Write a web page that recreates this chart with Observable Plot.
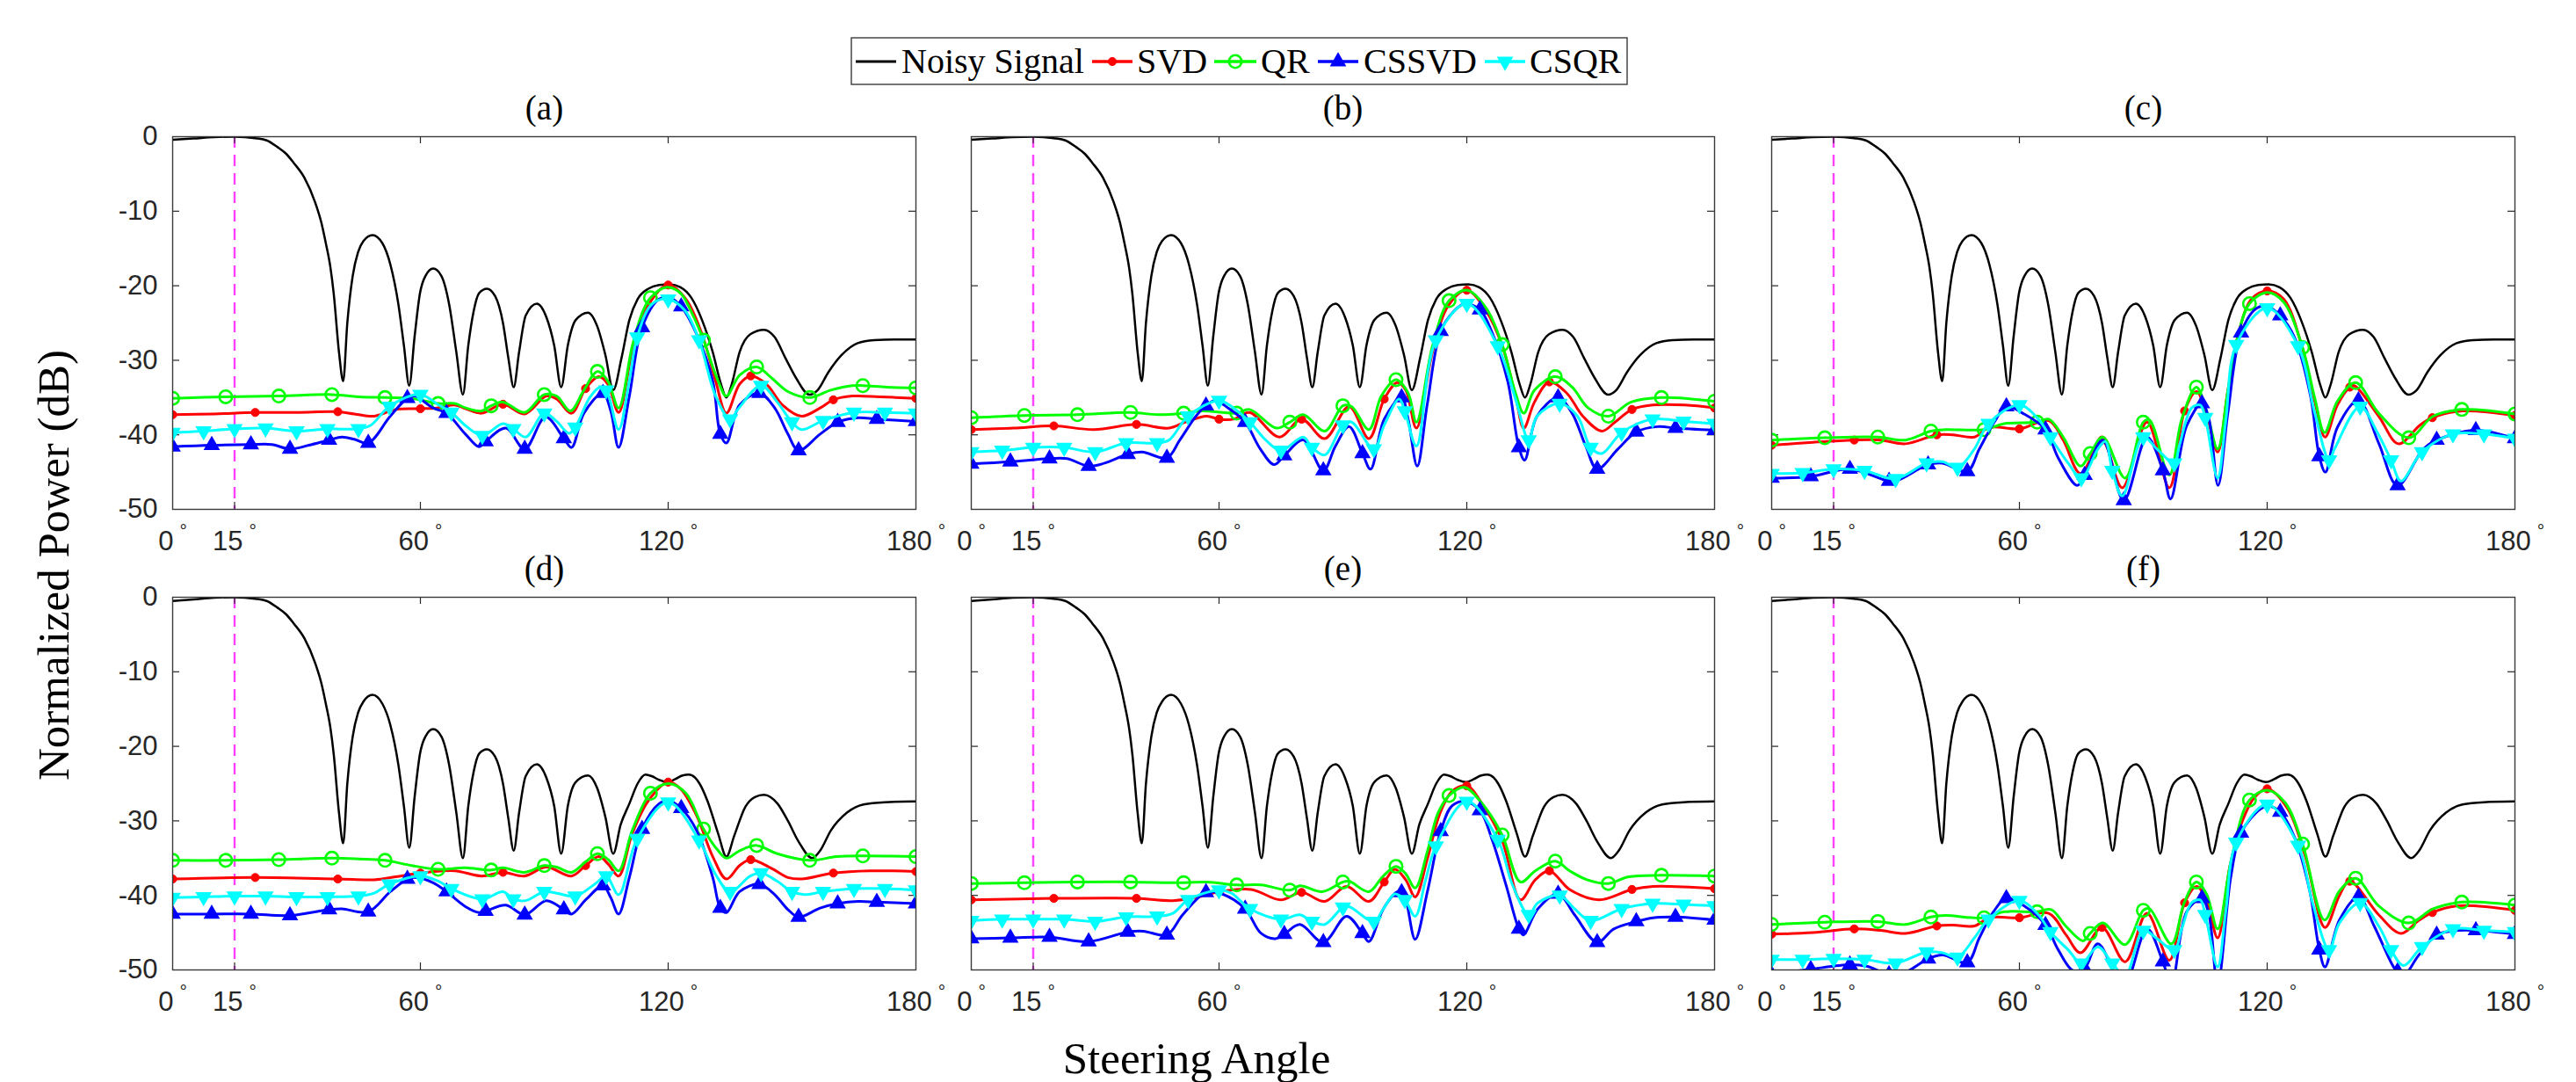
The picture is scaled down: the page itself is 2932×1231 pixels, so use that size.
<!DOCTYPE html>
<html><head><meta charset="utf-8">
<script src="https://cdn.jsdelivr.net/npm/d3@7"></script>
<script src="https://cdn.jsdelivr.net/npm/@observablehq/plot@0.6"></script>
<style>
body{margin:0;background:#fff;}
#fig{position:relative;width:2932px;height:1231px;overflow:hidden;background:#fff;}
.panel{position:absolute;}
.overlay{position:absolute;left:0;top:0;pointer-events:none;}
</style></head><body><div id="fig"></div>
<script>
// ---------- tick labels / categories ----------
const xTicks = [0, 15, 60, 120, 180];
const yTicks = [0, -10, -20, -30, -40, -50];
const panelTitles = ["(a)", "(b)", "(c)", "(d)", "(e)", "(f)"];
const seriesNames = ["Noisy Signal", "SVD", "QR", "CSSVD", "CSQR"];
const steeringRef = [15];
const xLabel = "Steering Angle";
const yLabel = "Normalized Power (dB)";

// ---------- noisy signal (black) ----------
const noisyTop = [[0,-0.4],[5,-0.25],[10,-0.05],[15,0],[20,-0.2],[22.8,-0.5],[25.4,-1.4],[27.5,-2.3],[29.3,-3.5],[31.9,-5.5],[34.5,-8.8],[36,-11.5],[37.1,-14.3],[38.2,-17.5],[39,-21],[40.3,-29],[41.3,-32.8],[42.3,-25],[43.6,-18.7],[44.9,-15.5],[46.2,-14],[48.4,-13.2],[50.8,-14.3],[52.7,-17.1],[54.7,-22.6],[56,-28],[57.3,-33.4],[58.6,-26.8],[59.9,-21],[61.2,-18.7],[63.1,-17.7],[65.1,-18.7],[67,-22.6],[68.7,-28.9],[70.3,-34.6],[71.6,-28],[72.9,-23.4],[74.2,-21],[76.1,-20.4],[78.1,-21.4],[80,-25],[81.3,-29.7],[82.6,-33.6],[83.9,-28.9],[85.5,-24],[88.2,-22.4],[90.5,-24.2],[92.4,-28],[94.1,-33.6],[95.7,-28],[97.6,-24.6],[100.6,-23.6],[102.8,-25.4],[104.8,-29.3],[106.7,-34],[108.7,-29.7],[110.6,-24.6],[112.6,-21.8],[115.2,-20.4],[117.8,-19.9],[120.4,-19.8],[123,-20.2],[125.6,-21.6],[128.2,-24.6],[130.8,-28.9],[132.8,-33.2],[134.1,-35],[135.4,-33.2],[137.3,-28.9],[139.9,-26.5],[143.2,-25.9],[145.8,-26.9],[148.4,-29.7],[151,-32.4],[154.2,-34.6],[156.2,-34],[158.8,-31.6],[162,-29.3],[165.9,-27.7],[169.8,-27.3],[175,-27.2],[180,-27.2]];
const noisyBottom = [[0,-0.5],[5,-0.3],[10,-0.05],[15,0],[20,-0.2],[22.8,-0.5],[25.4,-1.4],[27.5,-2.3],[29.3,-3.5],[31.9,-5.5],[34.5,-8.8],[36,-11.5],[37.1,-14.3],[38.2,-17.5],[39,-21],[40.3,-29],[41.3,-33],[42.3,-25],[43.6,-18.7],[44.9,-15.5],[46.2,-14],[48.4,-13.1],[50.8,-14.3],[52.7,-17.1],[54.7,-22.6],[56,-28],[57.3,-33.6],[58.6,-26.8],[59.9,-21],[61.2,-18.7],[63.1,-17.7],[65.1,-18.7],[67,-22.6],[68.7,-28.9],[70.3,-35],[71.6,-28],[72.9,-23.4],[74.2,-21],[76.1,-20.4],[78.1,-21.4],[80,-25],[81.3,-29.7],[82.6,-34],[83.9,-28.9],[85.5,-24],[88.2,-22.4],[90.5,-24.2],[92.4,-28],[94.1,-34.4],[95.7,-28],[97.6,-24.8],[100.6,-23.9],[102.8,-25.6],[104.8,-29.5],[106.7,-34.4],[108.5,-30.5],[110.6,-27.7],[112.6,-25],[114.5,-23.8],[116,-24],[117.8,-24.5],[119.7,-24.8],[121.7,-24.4],[123.5,-23.9],[125,-23.8],[126.5,-24.2],[127.6,-25],[129.5,-27.3],[132.1,-31.7],[134.1,-34.8],[136,-32],[138.7,-28.1],[141,-26.8],[143.2,-26.5],[146.5,-27.7],[149,-30],[151.6,-32.8],[154.9,-35],[156.8,-34],[159.4,-31.3],[163.3,-28.9],[167.3,-27.8],[172.5,-27.5],[180,-27.4]];

// ---------- panel (a) ----------  [angle, dB, marker?]
const a_svd = [[0,-37.3,1],[10,-37.2],[20,-37.0,1],[30,-37.0],[40,-36.9,1],[44,-37.2],[48.8,-37.5],[54,-36.6],[60,-36.5,1],[64,-36.4],[68.3,-36.0],[71,-36.5],[74.8,-37.1],[80,-35.9,1],[85.2,-37.2],[90.5,-34.8],[93,-35.2],[96.6,-37.1],[100,-33.8,1],[103.2,-32.2],[105.4,-33.2],[108,-37.0],[111.3,-28.9],[115.2,-22.6],[120,-19.9,1],[124.3,-21.8],[128.2,-26.5],[131.5,-32.8],[134.1,-37.1],[137.3,-33.2],[140,-32.1,1],[143.8,-33.2],[147.7,-36.0],[152.3,-37.5],[156.8,-36.4],[160,-35.3,1],[164.6,-34.8],[171.2,-34.9],[180,-35.1,1]];
const a_qr = [[0,-35.1,1],[12.86,-34.9,1],[25.71,-34.8,1],[38.57,-34.6,1],[45,-34.9],[51.43,-35.0,1],[57.9,-35.1],[64.29,-35.8,1],[68.3,-35.8],[71,-36.4],[74.8,-36.8],[77.14,-36.1,1],[80,-35.6],[85.2,-37.0],[90,-34.6,1],[93,-34.8],[96.3,-36.8],[99.6,-34.0],[102.86,-31.5,1],[105.4,-32.8],[108,-36.4],[111.3,-28.1],[113.9,-23.4],[115.71,-21.6,1],[119.7,-20.2],[123,-21.0],[126.2,-24.2],[128.57,-27.3,1],[132.1,-32.8],[134.1,-34.8],[137.3,-32.0],[141.43,-30.9,1],[145.1,-32.4],[149,-34.2],[154.29,-35.0,1],[159.4,-34.0],[164.6,-33.4],[167.14,-33.4,1],[173,-33.6],[180,-33.7,1]];
const a_cssvd = [[0,-41.6,1],[9.47,-41.4,1],[18.95,-41.3,1],[24,-41.3],[28.42,-41.9,1],[33,-41.4],[37.89,-40.7,1],[41,-40.3],[44,-40.6],[47.37,-41.1,1],[52.7,-37.5],[56.84,-35.1,1],[58.6,-34.8],[63.1,-36.4],[66.32,-37.1,1],[70.9,-39.9],[74.2,-41.6],[75.79,-40.9,1],[80.7,-39.1],[85.26,-41.9,1],[90.3,-37.6],[94.74,-40.5,1],[96.6,-41.7],[99.6,-37.1],[104.21,-34.4,1],[106.1,-36.8],[108,-41.7],[110.6,-34.8],[113.68,-25.6,1],[117.8,-21.8],[120.4,-21.6],[123.16,-22.8,1],[126.9,-26.5],[130.8,-32.8],[132.63,-39.9,1],[134.1,-41.1],[137.3,-36.0],[142.11,-34.4,1],[145.8,-36.4],[149,-39.9],[151.58,-42.1,1],[156.8,-39.9],[161.05,-38.3,1],[166,-37.7],[170.53,-37.9,1],[180,-38.2,1]];
const a_csqr = [[0,-39.7,1],[7.5,-39.5,1],[15,-39.2,1],[22.5,-39.1,1],[30,-39.5,1],[37.5,-39.2,1],[45,-39.2,1],[48,-38.7],[52.5,-36.2,1],[60,-34.6,1],[64.4,-36.0],[67.5,-37.0,1],[71,-38.8],[75,-40.1,1],[80,-38.5],[82.5,-39.2,1],[85.5,-40.3],[90,-37.1,1],[93,-38.2],[96,-39.8],[97.5,-39.0,1],[101,-35.0],[103.5,-33.6],[105,-34.0,1],[108,-39.3],[110.5,-33.0],[112.5,-26.9,1],[116,-22.5],[120,-21.8,1],[124,-23.3],[127.5,-27.3,1],[131.5,-34.8],[135,-37.9,1],[137,-36.5],[142.5,-33.4,1],[146.4,-35.6],[150,-38.3,1],[152.3,-39.3],[157.5,-38.1,1],[165,-37.0,1],[172.5,-37.0,1],[180,-37.1,1]];

// ---------- panel (b) ----------
const b_svd = [[0,-39.3,1],[10.2,-39.1],[20,-38.8,1],[29.7,-39.3],[40,-38.6,1],[47.9,-39.1],[51.8,-38.3],[57,-37.5],[60,-37.9,1],[63.5,-37.9],[67.4,-37.0],[74.6,-40.3],[80,-37.9,1],[85.6,-40.5],[91.5,-36.2],[96.3,-40.5],[100,-35.2,1],[103.2,-33.0],[105.2,-34.0],[107.8,-39.1],[111.7,-28.9],[115.6,-22.6],[120,-20.6,1],[124.7,-23.4],[128.6,-28.1],[131.8,-34.8],[133.8,-39.1],[136.4,-35.6],[140,-32.9,1],[144.2,-34.4],[148.1,-37.5],[152.7,-39.5],[155.9,-38.3],[160,-36.6,1],[165,-36.0],[172.8,-36.0],[180,-36.4,1]];
const b_qr = [[0,-37.7,1],[12.86,-37.4,1],[25.71,-37.3,1],[38.57,-37.0,1],[45.3,-37.3],[51.43,-37.1,1],[55.7,-36.8],[60.9,-37.0],[64.29,-37.1,1],[67.4,-36.6],[73.9,-39.1],[77.14,-38.3,1],[80.4,-37.3],[85.6,-39.5],[90,-36.1,1],[92.1,-36.2],[96.3,-39.3],[99.3,-34.8],[102.86,-32.6,1],[105.8,-34.4],[107.8,-38.3],[111.7,-28.1],[115.71,-22.0,1],[120.1,-20.6],[124.7,-23.0],[128.57,-27.9,1],[131.8,-34.4],[133.8,-37.1],[136.4,-34.0],[141.43,-32.2,1],[145.5,-33.6],[149.4,-36.4],[154.29,-37.5,1],[159.8,-35.6],[167.14,-35.0,1],[180,-35.5,1]];
const b_cssvd = [[0,-43.9,1],[9.47,-43.6,1],[18.95,-43.2,1],[23.2,-43.2],[28.42,-44.2,1],[32.3,-43.8],[37.89,-42.6,1],[41.4,-42.3],[47.37,-43.1,1],[50.5,-40.7],[54.4,-37.5],[56.84,-36.1,1],[59,-35.4],[62.2,-36.4],[66.32,-38.3,1],[70,-41.9],[73.3,-44.0],[75.79,-42.8,1],[80.4,-40.7],[85.26,-44.8,1],[88.2,-41.5],[91.5,-38.9],[94.74,-42.5,1],[96.7,-44.6],[100,-37.9],[104.21,-35.0,1],[105.8,-37.9],[108,-44.2],[110.4,-36.0],[113.68,-26.1,1],[116.9,-23.4],[119.5,-22.4],[123.16,-23.2,1],[126,-26.1],[129.9,-32.8],[132.63,-41.7,1],[134,-43.4],[137,-37.5],[142.11,-35.0,1],[145.5,-37.1],[148.8,-41.5],[151.58,-44.6,1],[156.6,-41.9],[161.05,-39.6,1],[166.3,-38.9],[170.53,-39.1,1],[180,-39.4,1]];
const b_csqr = [[0,-42.3,1],[7.5,-42.1,1],[15,-41.7,1],[22.5,-41.7,1],[30,-42.3,1],[37.5,-41.1,1],[45,-41.1,1],[47.9,-40.7],[52.5,-37.5,1],[60,-35.4,1],[63.5,-36.4],[67.5,-38.3,1],[71.3,-40.7],[75,-42.1,1],[80.4,-40.3],[82.5,-41.7,1],[85.6,-42.7],[90,-38.7,1],[92.1,-38.3],[97.5,-41.9,1],[100,-38.7],[103.6,-35.2],[105,-36.8,1],[107.8,-41.5],[112.5,-27.3,1],[120,-22.4,1],[127.5,-28.1,1],[131.8,-35.2],[135,-40.7,1],[137,-37.5],[142.5,-35.8,1],[146.8,-37.5],[150,-41.7,1],[152.7,-42.5],[157.5,-39.7,1],[165,-37.9,1],[172.5,-38.2,1],[180,-38.5,1]];

// ---------- panel (c) ----------
const c_svd = [[0,-41.4,1],[10,-41.0],[20,-40.7,1],[26.4,-40.7],[32.4,-41.2],[40,-40.0,1],[44,-40.0],[49.1,-40.3],[52.7,-39.0],[60,-39.2,1],[67.1,-38.1],[70.6,-40.7],[74.8,-45.2],[80,-40.7,1],[84.9,-47.1],[90.9,-38.3],[96.3,-47.1],[100,-36.8,1],[102.9,-34.2],[105.3,-37.2],[108,-42.3],[110.5,-34.0],[113,-26.5],[116.2,-21.8],[120,-20.7,1],[124,-21.8],[128.6,-28.5],[131.5,-35.5],[134,-40.3],[137,-36.0],[140,-33.6,1],[141.1,-33.4],[147,-37.5],[151.8,-41.2],[157,-38.7],[160,-37.7,1],[167.3,-36.8],[180,-37.4,1]];
const c_qr = [[0,-40.7,1],[12.86,-40.4,1],[25.71,-40.3,1],[32.4,-40.7],[38.57,-39.5,1],[42,-39.3],[51.43,-39.3,1],[56.3,-38.5],[64.29,-38.3,1],[67.1,-37.9],[70.6,-40.3],[74.8,-44.2],[77.14,-42.5,1],[80.2,-40.3],[85.6,-45.8],[90,-38.3,1],[91.5,-38.0],[96.3,-45.4],[99.3,-37.9],[102.86,-33.6,1],[105.3,-36.8],[108,-41.9],[110.5,-34.0],[112.8,-27.0],[115.71,-22.4,1],[120.1,-20.9],[124,-22.2],[128.57,-28.3,1],[131.5,-35.0],[133.9,-39.7],[137,-35.5],[141.43,-33.0,1],[147,-37.1],[154.29,-40.4,1],[160.2,-37.5],[167.14,-36.6,1],[180,-37.2,1]];
const c_cssvd = [[0,-45.8,1],[9.47,-45.6,1],[18.95,-44.6,1],[28.42,-46.2,1],[30.5,-46.1],[37.89,-44.0,1],[41.4,-43.8],[47.37,-44.9,1],[50.3,-41.9],[53.9,-38.3],[56.84,-36.2,1],[61.1,-37.2],[66.32,-39.3,1],[69.4,-43.1],[74,-46.8],[75.79,-45.4,1],[80.2,-40.7],[85.26,-48.8,1],[90.9,-40.3],[94.74,-44.8,1],[96.6,-48.6],[100.5,-38.8],[104.21,-35.8,1],[105.9,-37.9],[108.1,-46.8],[110.5,-37.0],[113.68,-26.3,1],[117.5,-23.0],[120.1,-22.8],[123.16,-24.0,1],[126.6,-26.9],[130.5,-34.8],[132.63,-42.9,1],[134.1,-45.0],[137,-39.0],[142.11,-35.4,1],[147,-41.1],[151.58,-46.8,1],[157.8,-41.9],[161.05,-40.7,1],[170.53,-39.4,1],[180,-40.5,1]];
const c_csqr = [[0,-45.2,1],[7.5,-45.1,1],[15,-44.6,1],[22.5,-44.8,1],[30,-45.9,1],[37.5,-43.8,1],[41.4,-43.6],[45,-44.4,1],[49.1,-41.9],[52.5,-38.5,1],[60,-36.0,1],[64.6,-37.9],[67.5,-40.3,1],[71.8,-43.8],[75,-45.8,1],[79,-41.9],[80.8,-40.9],[82.5,-44.8,1],[84.9,-48.2],[90,-40.3,1],[93.3,-41.9],[97.5,-43.8,1],[98.7,-41.5],[101.7,-36.4],[103.8,-36.0],[105,-37.7,1],[108,-45.8],[110,-38.0],[112.5,-27.9,1],[120,-23.0,1],[127.5,-28.1,1],[131.5,-37.0],[135,-43.4,1],[136.3,-41.9],[142.5,-36.2,1],[146.5,-39.5],[150,-43.4,1],[152.4,-46.2],[157.5,-42.3,1],[165,-39.9,1],[172.5,-39.9,1],[180,-40.5,1]];

// ---------- panel (d) ----------
const d_svd = [[0,-37.8,1],[20,-37.6,1],[40,-37.8,1],[48.8,-37.9],[54,-37.5],[60,-37.0,1],[68.3,-36.7],[74.8,-37.4],[80,-36.9,1],[85.2,-37.4],[90.5,-36.2],[96.6,-37.4],[100,-36.0,1],[103.2,-34.8],[105.5,-35.8],[108,-37.4],[111.3,-31.7],[115.2,-27.3],[120,-24.8,1],[123,-25.7],[126.9,-29.3],[130.8,-34.8],[134.1,-37.8],[137.3,-36.0],[140,-35.2,1],[145.1,-36.4],[149,-37.6],[152.3,-37.8],[160,-37.0,1],[168.9,-36.7],[180,-36.8,1]];
const d_qr = [[0,-35.3,1],[12.86,-35.3,1],[25.71,-35.2,1],[38.57,-35.0,1],[45,-35.1],[51.43,-35.3,1],[57.9,-36.0],[64.29,-36.5,1],[70.9,-36.3],[77.14,-36.6,1],[80,-36.3],[85.2,-36.9],[90,-36.0,1],[93,-36.2],[96.6,-36.9],[100,-35.5],[102.86,-34.4,1],[105.5,-35.2],[108,-36.7],[111.3,-31.3],[115.71,-26.3,1],[120.1,-25.0],[124.3,-26.3],[128.57,-31.1,1],[132.1,-34.0],[134.1,-35.0],[137.3,-34.0],[141.43,-33.3,1],[146.4,-34.4],[154.29,-35.3,1],[160.8,-34.8],[167.14,-34.7,1],[180,-34.8,1]];
const d_cssvd = [[0,-42.5,1],[9.47,-42.5,1],[18.95,-42.5,1],[28.42,-42.7,1],[37.89,-41.9,1],[41,-41.8],[47.37,-42.2,1],[52.7,-39.5],[56.84,-37.8,1],[58.6,-37.6],[63.1,-38.3],[66.32,-39.5,1],[70.9,-41.5],[74.2,-42.3],[75.79,-42.1,1],[80.7,-41.3],[85.26,-42.6,1],[90.5,-40.7],[94.74,-41.9,1],[96.6,-42.5],[100.2,-40.5],[104.21,-38.7,1],[106.1,-40.3],[108,-42.5],[110.6,-37.6],[113.68,-31.1,1],[117.8,-27.7],[120.1,-27.3],[123.16,-28.3,1],[126.9,-31.3],[130.8,-37.6],[132.63,-41.7,1],[134.1,-42.3],[137.3,-39.5],[142.11,-38.5,1],[145.8,-39.9],[149,-41.9],[151.58,-42.9,1],[156.8,-41.7],[161.05,-41.1,1],[166,-40.8],[170.53,-40.9,1],[180,-41.1,1]];
const d_csqr = [[0,-40.3,1],[7.5,-40.2,1],[15,-40.1,1],[22.5,-40.1,1],[30,-40.2,1],[37.5,-40.2,1],[45,-40.1,1],[48.8,-39.7],[52.5,-38.5,1],[60,-37.4,1],[64.4,-38.1],[67.5,-39.1,1],[75,-40.5,1],[80,-39.5],[82.5,-40.5,1],[85.5,-40.7],[90,-39.5,1],[93,-39.7],[97.5,-40.1,1],[102.2,-38.5],[105,-37.4,1],[108,-39.9],[112.5,-32.4,1],[120,-27.5,1],[127.5,-32.6,1],[131.5,-37.2],[135,-39.5,1],[139.9,-37.4],[142.5,-37.0,1],[146.4,-38.1],[150,-39.5,1],[152.9,-39.9],[157.5,-39.5,1],[165,-39.1,1],[172.5,-39.1,1],[180,-39.3,1]];

// ---------- panel (e) ----------
const e_svd = [[0,-40.6,1],[20,-40.4,1],[40,-40.4,1],[48.8,-40.7],[55.9,-40.1],[60,-39.5,1],[67.8,-39.2],[74.9,-40.6],[80,-39.6,1],[85.6,-40.8],[90.9,-38.8],[96.3,-40.8],[100,-38.2,1],[102.6,-36.5],[105.2,-37.9],[107.5,-40.2],[110.5,-35.0],[113.5,-29.0],[116.5,-26.0],[120,-25.3,1],[123.6,-27.6],[128.6,-32.7],[133,-40.6],[136.6,-37.9],[140,-36.7,1],[144.9,-39.2],[152,-40.6],[160,-39.2,1],[165.1,-38.8],[180,-39.1,1]];
const e_qr = [[0,-38.4,1],[12.86,-38.3,1],[25.71,-38.2,1],[38.57,-38.2,1],[51.43,-38.3,1],[57.1,-38.2],[64.29,-38.6,1],[70.2,-38.6],[77.14,-39.3,1],[79.6,-38.7],[85,-39.5],[90,-38.2,1],[91.5,-38.1],[96.3,-39.5],[99.6,-37.5],[102.86,-36.1,1],[105.2,-37.1],[107.5,-39.0],[110.5,-34.0],[113,-29.0],[115.71,-26.6,1],[119.4,-25.5],[123.6,-27.6],[128.57,-31.9,1],[133,-38.2],[136.6,-36.7],[141.43,-35.4,1],[144.9,-36.7],[149.1,-37.9],[154.29,-38.4,1],[159.2,-37.5],[167.14,-37.3,1],[180,-37.4,1]];
const e_cssvd = [[0,-45.8,1],[9.47,-45.7,1],[18.95,-45.6,1],[28.42,-46.2,1],[37.89,-44.9,1],[41.7,-44.8],[47.37,-45.3,1],[51.2,-42.6],[56.84,-39.6,1],[60.7,-39.8],[66.32,-41.8,1],[70.2,-45.1],[73.7,-45.8],[75.79,-45.2,1],[79.6,-43.9],[85.26,-46.3,1],[90.9,-42.8],[94.74,-45.1,1],[96.3,-46.2],[99.8,-41.8],[103.2,-39.5],[104.21,-39.6,1],[105.2,-40.5],[107.5,-45.9],[110.5,-39.4],[113.68,-31.4,1],[116.4,-28.0],[119.4,-27.4],[123.16,-28.6,1],[126,-32.3],[129.5,-38.6],[132.63,-44.5,1],[133.7,-45.3],[137.2,-41.8],[142.11,-39.8,1],[146.1,-42.6],[151.58,-46.3,1],[155.6,-44.5],[161.05,-43.5,1],[165.1,-43.0],[170.53,-42.9,1],[180,-43.3,1]];
const e_csqr = [[0,-43.4,1],[7.5,-43.2,1],[15,-43.2,1],[22.5,-43.2,1],[30,-43.5,1],[37.5,-42.9,1],[45,-42.8,1],[48.8,-42.4],[52.5,-40.6,1],[60,-39.3,1],[63,-39.7],[67.5,-41.8,1],[75,-43.2,1],[79.6,-42.6],[82.5,-43.5,1],[85.6,-43.9],[90,-41.6,1],[91.5,-41.5],[97.5,-43.5,1],[99.8,-41.8],[102.6,-39.8],[105,-40.6,1],[107.5,-42.8],[110,-38.0],[112.5,-33.4,1],[120,-27.4,1],[127.5,-32.5,1],[131,-38.5],[135,-42.6,1],[137.2,-41.0],[142.5,-40.0,1],[146.1,-41.8],[150,-43.4,1],[157.5,-41.8,1],[165,-41.1,1],[172.5,-41.2,1],[180,-41.4,1]];

// ---------- panel (f) ----------
const f_svd = [[0,-45.2,1],[10,-45.0],[20,-44.5,1],[26.4,-44.7],[32.4,-45.1],[40,-44.1,1],[44,-44.0],[49.1,-44.1],[52.7,-43.0],[60,-43.0,1],[67.1,-42.4],[71.3,-45.3],[74.8,-47.7],[80,-44.3,1],[85.6,-48.9],[90.9,-42.4],[96.3,-48.7],[100,-41.0,1],[102.9,-38.8],[105.3,-40.6],[108,-45.7],[111,-36.0],[114,-30.0],[117,-26.8],[120,-25.7,1],[125,-28.4],[129.2,-34.7],[134,-44.3],[137.5,-40.0],[140,-38.1,1],[147,-42.6],[152.4,-45.1],[156.6,-43.4],[160,-42.3,1],[166.2,-41.4],[180,-42.0,1]];
const f_qr = [[0,-43.9,1],[12.86,-43.6,1],[25.71,-43.5,1],[32.4,-43.9],[38.57,-42.9,1],[42,-42.7],[51.43,-43.0,1],[56.3,-42.2],[64.29,-42.2,1],[67.7,-41.9],[71.2,-44.1],[75.4,-46.1],[77.14,-45.1,1],[80.2,-43.7],[85.6,-46.6],[90,-42.0,1],[91.5,-41.8],[96.8,-46.5],[99.9,-41.0],[102.86,-38.2,1],[105.3,-39.8],[108,-44.5],[111.2,-35.5],[115.71,-27.2,1],[120.2,-25.9],[124.4,-27.6],[128.57,-33.1,1],[133.9,-43.3],[137.5,-39.4],[141.43,-37.7,1],[147,-41.4],[154.29,-43.7,1],[160.2,-41.8],[167.14,-40.9,1],[180,-41.3,1]];
const f_cssvd = [[0,-50.6,1],[9.47,-49.9,1],[18.95,-49.3,1],[23,-49.5],[28.42,-50.6,1],[32.4,-50.3],[37.89,-48.5,1],[41.4,-48.0],[47.37,-49.0,1],[50.3,-45.7],[53.7,-42.2],[56.84,-40.4,1],[61.1,-41.4],[66.32,-44.0,1],[69.4,-47.3],[73,-50.1],[75.79,-49.8,1],[79,-46.5],[85.26,-52.0,1],[90.9,-44.5],[94.74,-48.9,1],[96.8,-52.0],[100.5,-42.2],[104.21,-40.4,1],[105.9,-42.6],[108,-52.0],[111.2,-37.5],[113.68,-31.6,1],[118.4,-28.4],[120.2,-28.0],[123.16,-28.8,1],[126.7,-32.3],[130.3,-39.4],[132.63,-47.3,1],[134,-49.6],[137.5,-43.3],[142.11,-40.2,1],[145.9,-44.1],[150.6,-49.6],[151.58,-50.2,1],[153,-50.8],[156.6,-48.1],[161.05,-45.3,1],[166.2,-44.7],[170.53,-44.7,1],[180,-45.2,1]];
const f_csqr = [[0,-48.6,1],[7.5,-48.6,1],[15,-48.5,1],[22.5,-48.6,1],[30,-49.1,1],[37.5,-47.6,1],[41.4,-47.7],[45,-48.3,1],[49.1,-45.7],[52.5,-43.2,1],[60,-40.7,1],[64.6,-42.6],[67.5,-44.9,1],[71.8,-47.3],[75,-49.1,1],[79,-46.9],[82.5,-49.1,1],[85.6,-50.8],[90,-44.7,1],[93.3,-45.8],[97.5,-47.3,1],[99.3,-44.5],[101.7,-41.0],[103.8,-40.6],[105,-42.6,1],[108,-49.6],[110,-42.0],[112.5,-32.9,1],[120,-27.8,1],[127.5,-33.3,1],[131,-41.0],[135,-47.3,1],[137.5,-43.7],[142.5,-41.0,1],[147,-44.1],[150,-47.3,1],[153,-49.4],[157.5,-46.9,1],[165,-44.5,1],[172.5,-44.7,1],[180,-44.9,1]];

// ---------- assembly ----------
const panels = [
  {noisy: noisyTop,    series: [a_svd, a_qr, a_cssvd, a_csqr]},
  {noisy: noisyTop,    series: [b_svd, b_qr, b_cssvd, b_csqr]},
  {noisy: noisyTop,    series: [c_svd, c_qr, c_cssvd, c_csqr]},
  {noisy: noisyBottom, series: [d_svd, d_qr, d_cssvd, d_csqr]},
  {noisy: noisyBottom, series: [e_svd, e_qr, e_cssvd, e_csqr]},
  {noisy: noisyBottom, series: [f_svd, f_qr, f_cssvd, f_csqr]}
];

const S3 = Math.sqrt(3);
const triDown = {draw(ctx, size) {
  const y = -Math.sqrt(size / (S3 * 3));
  ctx.moveTo(0, -2 * y); ctx.lineTo(-S3 * y, y); ctx.lineTo(S3 * y, y); ctx.closePath();
}};
const styles = [
  {stroke: "#ff0000", symbol: "circle",   r: 4.6, fill: "#ff0000", sw: 1},
  {stroke: "#00ff00", symbol: "circle",   r: 7.2, fill: "none",    sw: 2.6},
  {stroke: "#0000ff", symbol: "triangle", r: 6.0, fill: "#0000ff", sw: 1.5},
  {stroke: "#00ffff", symbol: triDown,    r: 6.0, fill: "#00ffff", sw: 1.5}
];

const W = 846, H = 424;
const lefts = [196, 1105, 2016], tops = [155, 679];
const mL = 100, mR = 40, mT = 60, mB = 80;
const fig = document.getElementById("fig");
const tickColor = "#262626";
const sansFont = "'Liberation Sans', Arial, Helvetica, sans-serif";
const serifFont = "'Liberation Serif', 'Times New Roman', serif";

panels.forEach((p, i) => {
  const col = i % 3, row = Math.floor(i / 3);
  const marks = [
    Plot.ruleX(steeringRef, {x: d => d, stroke: "#ff40ff", strokeWidth: 2.4, strokeDasharray: "13,8"}),
    Plot.tickX([15, 60, 120], {x: d => d, insetTop: H - 8, stroke: tickColor, strokeWidth: 1.2}),
    Plot.tickX([15, 60, 120], {x: d => d, insetBottom: H - 8, stroke: tickColor, strokeWidth: 1.2}),
    Plot.tickY([-10, -20, -30, -40], {y: d => d, insetRight: W - 8, stroke: tickColor, strokeWidth: 1.2}),
    Plot.tickY([-10, -20, -30, -40], {y: d => d, insetLeft: W - 8, stroke: tickColor, strokeWidth: 1.2}),
    Plot.line(p.noisy, {x: d => d[0], y: d => d[1], stroke: "#000", strokeWidth: 2.5, curve: "monotone-x", clip: true})
  ];
  p.series.forEach((s, k) => {
    const st = styles[k];
    marks.push(Plot.line(s, {x: d => d[0], y: d => d[1], stroke: st.stroke, strokeWidth: 3, curve: "catmull-rom", clip: true}));
    marks.push(Plot.dot(s.filter(d => d[2]), {x: d => d[0], y: d => d[1], symbol: st.symbol, r: st.r,
      fill: st.fill, stroke: st.stroke, strokeWidth: st.sw, clip: true}));
  });
  marks.push(Plot.frame({stroke: "#3a3a3a", strokeWidth: 1.4}));
  marks.push(Plot.axisX({ticks: xTicks, tickSize: 0, tickPadding: 24, fontSize: 31, fill: tickColor,
    tickFormat: d => String(d), label: null}));
  if (col === 0) {
    marks.push(Plot.axisY({ticks: yTicks, tickSize: 0, tickPadding: 17, fontSize: 31, fill: tickColor,
      tickFormat: d => String(d), label: null}));
  }
  marks.push(Plot.text([panelTitles[i]], {text: d => d, frameAnchor: "top", lineAnchor: "bottom", dy: -20,
    fontSize: 39, fontFamily: serifFont, fill: "#000"}));

  const svg = Plot.plot({
    width: W + mL + mR, height: H + mT + mB,
    marginLeft: mL, marginRight: mR, marginTop: mT, marginBottom: mB,
    x: {domain: [0, 180]},
    y: col === 0 ? {domain: [-50, 0]} : {domain: [-50, 0], axis: null},
    style: {background: "transparent", overflow: "visible", fontFamily: sansFont},
    marks
  });
  // degree symbol as raised superscript after each x tick label
  svg.querySelectorAll('g[aria-label="x-axis tick label"] text').forEach(t => {
    const ts = document.createElementNS("http://www.w3.org/2000/svg", "tspan");
    ts.setAttribute("dx", "7");
    ts.setAttribute("dy", "-15");
    ts.setAttribute("font-size", "21");
    ts.textContent = "°";
    t.appendChild(ts);
  });
  const div = document.createElement("div");
  div.className = "panel";
  div.style.left = (lefts[col] - mL) + "px";
  div.style.top = (tops[row] - mT) + "px";
  div.appendChild(svg);
  fig.appendChild(div);
});

// ---------- overlay: legend and axis titles ----------
const ov = d3.create("svg").attr("class", "overlay").attr("width", 2932).attr("height", 1231);
ov.append("text").attr("x", 1362).attr("y", 1221).attr("text-anchor", "middle")
  .attr("font-family", serifFont).attr("font-size", 51).attr("fill", "#000").text(xLabel);
ov.append("text").attr("transform", "translate(78,643) rotate(-90)").attr("text-anchor", "middle")
  .attr("font-family", serifFont).attr("font-size", 51).attr("fill", "#000").text(yLabel);

const lg = ov.append("g");
lg.append("rect").attr("x", 969).attr("y", 43).attr("width", 883).attr("height", 53)
  .attr("fill", "#fff").attr("stroke", "#3a3a3a").attr("stroke-width", 1.4);
const legendLayout = [
  {x0: 974, x1: 1020, tx: 1026},
  {x0: 1243, x1: 1289, tx: 1294},
  {x0: 1382, x1: 1430, tx: 1435},
  {x0: 1500, x1: 1546, tx: 1552},
  {x0: 1690, x1: 1736, tx: 1741}
];
const legendStroke = ["#000", "#ff0000", "#00ff00", "#0000ff", "#00ffff"];
const d3Symbols = [null, d3.symbolCircle, d3.symbolCircle, d3.symbolTriangle, triDown];
seriesNames.forEach((name, k) => {
  const L = legendLayout[k];
  lg.append("line").attr("x1", L.x0).attr("x2", L.x1).attr("y1", 70).attr("y2", 70)
    .attr("stroke", legendStroke[k]).attr("stroke-width", k === 0 ? 3 : 3.5);
  if (k > 0) {
    const st = styles[k - 1];
    lg.append("path").attr("d", d3.symbol(d3Symbols[k], Math.PI * st.r * st.r)())
      .attr("transform", `translate(${(L.x0 + L.x1) / 2},70)`)
      .attr("fill", st.fill).attr("stroke", st.stroke).attr("stroke-width", st.sw);
  }
  lg.append("text").attr("x", L.tx).attr("y", 83).attr("font-family", serifFont)
    .attr("font-size", 40).attr("fill", "#000").text(name);
});
fig.appendChild(ov.node());
</script>
</body></html>
